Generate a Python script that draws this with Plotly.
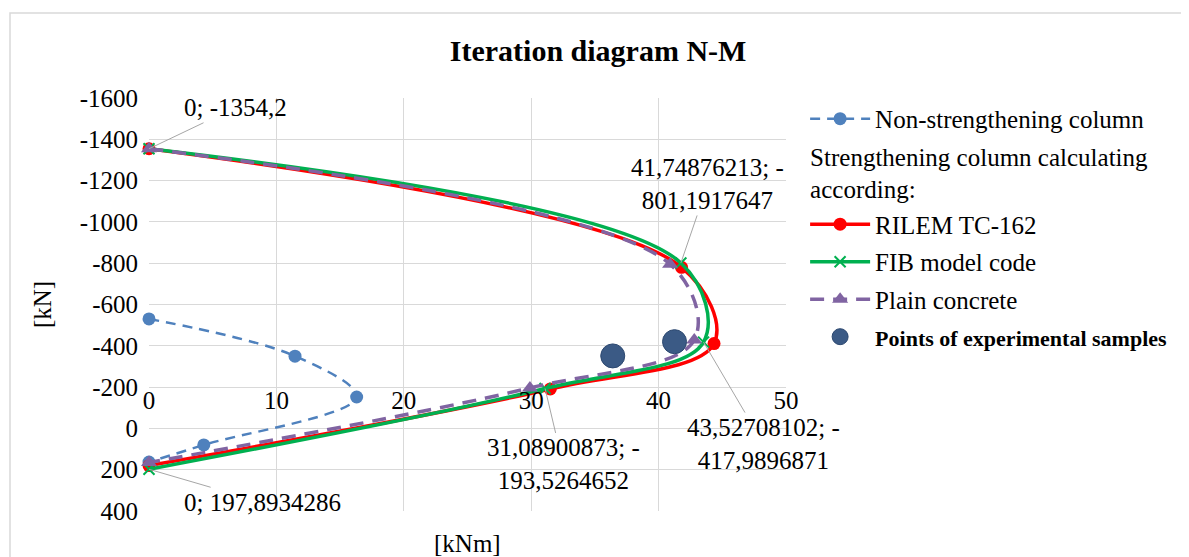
import plotly.graph_objects as go

# ---------------- data ----------------
m_non = [0, 11.46, 16.3, 4.3, 0]
n_non = [-530, -350, -152, 80, 163]

m_rilem = [0, 41.8, 44.35, 31.5, 0]
n_rilem = [-1354.2, -780, -411, -191, 180]

m_fib = [0, 41.74876213, 43.52708102, 31.08900873, 0]
n_fib = [-1354.2, -801.1917647, -417.9896871, -193.5264652, 197.8934286]

m_plain = [0, 40.9, 42.8, 29.9, 0]
n_plain = [-1354.2, -795, -428, -196, 165]

m_exp = [36.4, 41.25]
n_exp = [-351, -420]

x_ticks = [0, 10, 20, 30, 40, 50]
x_ticktext = ["0", "10", "20", "30", "40", "50"]
y_ticks = [-1600, -1400, -1200, -1000, -800, -600, -400, -200, 0, 200, 400]
y_ticktext = ["-1600", "-1400", "-1200", "-1000", "-800", "-600", "-400", "-200", "0", "200", "400"]

# data labels: (x, y, text, ax, ay)
labels = [
    (m_fib[0], n_fib[0], "0; -1354,2", 86, -41),
    (m_fib[1], n_fib[1], "41,74876213; -<br>801,1917647", 27, -79),
    (m_fib[3], n_fib[3], "31,08900873; -<br>193,5264652", 18, 76),
    (m_fib[2], n_fib[2], "43,52708102; -<br>417,9896871", 60, 102),
    (m_fib[4], n_fib[4], "0; 197,8934286", 113, 33),
]

FONT = "Liberation Serif"

fig = go.Figure()

fig.add_trace(go.Scatter(
    x=m_non, y=n_non, mode="lines+markers", name="Non-strengthening column",
    legendgroup="g0",
    line=dict(color="#4f81bd", width=2.5, dash="10px,7px", shape="spline"),
    marker=dict(size=13, color="#4f81bd"), cliponaxis=False))

fig.add_trace(go.Scatter(
    x=m_rilem, y=n_rilem, mode="lines+markers", name="RILEM TC-162",
    legendgroup="g1",
    legendgrouptitle=dict(text="Strengthening column calculating<br>according:",
                          font=dict(family=FONT, size=25, color="black")),
    line=dict(color="#ff0000", width=3.5, shape="spline"),
    marker=dict(size=13, color="#ff0000"), cliponaxis=False))

fig.add_trace(go.Scatter(
    x=m_fib, y=n_fib, mode="lines+markers", name="FIB model code",
    legendgroup="g2",
    line=dict(color="#00b050", width=3.5, shape="spline"),
    marker=dict(size=11, color="#00b050", symbol="x-thin",
                line=dict(width=2, color="#00b050")), cliponaxis=False))

fig.add_trace(go.Scatter(
    x=m_plain, y=n_plain, mode="lines+markers", name="Plain concrete",
    legendgroup="g3",
    line=dict(color="#8064a2", width=3.5, dash="14px,9px", shape="spline"),
    marker=dict(size=14, color="#8064a2", symbol="triangle-up"), cliponaxis=False))

fig.add_trace(go.Scatter(
    x=m_exp, y=n_exp, mode="markers",
    name="<b><span style='font-size:22px'>Points of experimental samples</span></b>",
    legendgroup="g4",
    marker=dict(size=24, color="#3b5a85", line=dict(width=1, color="#2c4870")),
    cliponaxis=False))

annotations = []
for (x, y, t, ax, ay) in labels:
    annotations.append(dict(
        x=x, y=y, xref="x", yref="y", text=t, showarrow=True,
        ax=ax, ay=ay, arrowhead=0, arrowwidth=1, arrowcolor="#a6a6a6",
        font=dict(family=FONT, size=25, color="black"), align="center"))

annotations.append(dict(
    x=0.5, y=-0.078, xref="paper", yref="paper", text="[kNm]", showarrow=False,
    xanchor="center", yanchor="middle",
    font=dict(family=FONT, size=25, color="black")))

fig.update_layout(
    width=1181, height=549,
    margin=dict(l=141, r=403, t=90, b=46),
    paper_bgcolor="white", plot_bgcolor="white",
    font=dict(family=FONT, size=25, color="black"),
    title=dict(text="<b>Iteration diagram N-M</b>", x=0.705, xref="paper",
               xanchor="center", y=1 - 42 / 549, yref="container", yanchor="middle",
               font=dict(family=FONT, size=30, color="black")),
    xaxis=dict(range=[0, 50], autorange=False, tickvals=x_ticks, ticktext=x_ticktext,
               showgrid=True, gridcolor="#d9d9d9", gridwidth=1, zeroline=False,
               showline=False, ticks="", anchor="free", position=0.3,
               ticklabelstandoff=-4,
               tickfont=dict(family=FONT, size=25, color="black")),
    yaxis=dict(range=[400, -1600], autorange=False, tickvals=y_ticks, ticktext=y_ticktext,
               showgrid=True, gridcolor="#d9d9d9", gridwidth=1, zeroline=False,
               showline=False, ticks="", ticklabelstandoff=10,
               title=dict(text="[kN]", standoff=20,
                          font=dict(family=FONT, size=25, color="black")),
               tickfont=dict(family=FONT, size=25, color="black")),
    legend=dict(x=1.03, y=1.005, xanchor="left", yanchor="top",
                font=dict(family=FONT, size=25, color="black"),
                itemwidth=60, tracegroupgap=2, bgcolor="rgba(0,0,0,0)"),
    annotations=annotations,
    shapes=[dict(type="rect", xref="paper", yref="paper",
                 x0=(10 - 149) / 637, x1=(1195 - 149) / 637,
                 y0=(511 - 565) / 413, y1=(511 - 13) / 413,
                 line=dict(color="#d9d9d9", width=1.5), fillcolor="rgba(0,0,0,0)",
                 layer="below")],
)

fig.write_html("out.html")
